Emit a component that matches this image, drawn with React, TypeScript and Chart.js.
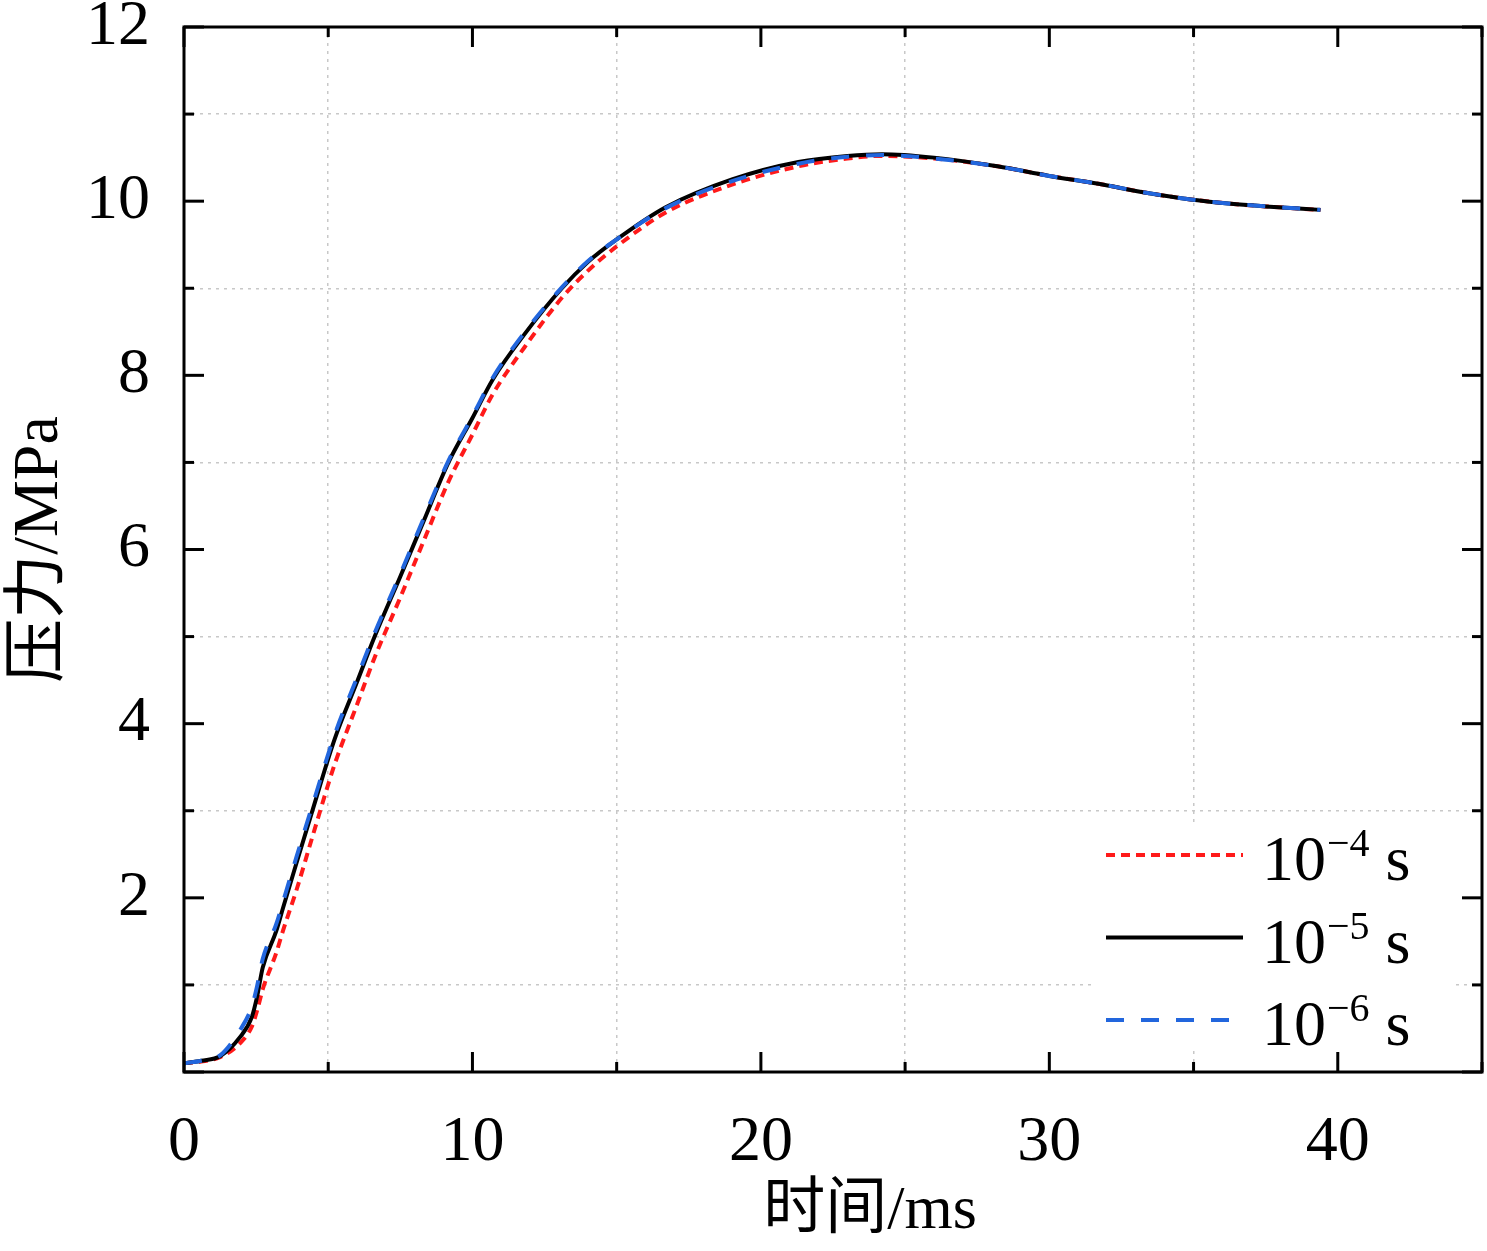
import { useEffect, useRef } from "react"
import { Chart, registerables } from "chart.js"

Chart.register(...registerables)

// tiempo (ms) común a las tres curvas
const timeMs = [0, 0.6, 1.25, 1.94, 2.35, 2.53, 2.73, 3.2, 3.43, 3.9, 4.46, 5.22, 6.0, 6.61, 7.5, 8.3, 9.17, 10.0, 10.7, 11.8, 13.1, 14.0, 15.0, 16.7, 19.0, 21.3, 23.0, 24.2, 26.0, 28.2, 30.0, 31.7, 33.3, 34.9, 36.3, 37.5, 39.4]

// presión (MPa) para cada paso de tiempo
const pressureStep4 = [0.10, 0.12, 0.17, 0.33, 0.52, 0.70, 0.95, 1.37, 1.62, 2.09, 2.71, 3.53, 4.22, 4.76, 5.45, 6.09, 6.78, 7.32, 7.78, 8.32, 8.89, 9.20, 9.48, 9.87, 10.19, 10.40, 10.49, 10.52, 10.49, 10.40, 10.29, 10.20, 10.10, 10.02, 9.97, 9.94, 9.90]
const pressureStep5 = [0.10, 0.13, 0.18, 0.40, 0.63, 0.86, 1.20, 1.62, 1.88, 2.40, 3.01, 3.82, 4.48, 5.00, 5.69, 6.32, 7.00, 7.51, 7.95, 8.47, 9.00, 9.30, 9.56, 9.93, 10.25, 10.45, 10.52, 10.54, 10.50, 10.40, 10.29, 10.20, 10.10, 10.02, 9.97, 9.94, 9.90]
const pressureStep6 = [0.10, 0.13, 0.19, 0.48, 0.75, 0.98, 1.30, 1.70, 1.95, 2.47, 3.07, 3.87, 4.53, 5.04, 5.72, 6.35, 7.02, 7.53, 7.97, 8.49, 9.01, 9.31, 9.56, 9.92, 10.23, 10.43, 10.51, 10.53, 10.49, 10.40, 10.29, 10.20, 10.10, 10.02, 9.97, 9.94, 9.90]

const seriesLabels = ["10⁻⁴ s", "10⁻⁵ s", "10⁻⁶ s"]
const seriesExponents = ["−4", "−5", "−6"]
const xTitle = "时间/ms"
const yTitle = "压力/MPa"

const SERIF = "'Liberation Serif', 'Times New Roman', 'Noto Sans CJK SC', serif"

const toPoints = (ys: number[]) => ys.map((y, i) => ({ x: timeMs[i], y }))

// marco y marcas hacia dentro en los cuatro lados
const framePlugin = {
    id: "frame",
    afterDraw(chart: any) {
        const { ctx, chartArea, scales } = chart
        const { left, right, top, bottom } = chartArea
        ctx.save()
        ctx.strokeStyle = "#000"
        ctx.lineWidth = 3
        ctx.lineCap = "butt"
        const seg = (x1: number, y1: number, x2: number, y2: number) => {
            ctx.beginPath()
            ctx.moveTo(x1, y1)
            ctx.lineTo(x2, y2)
            ctx.stroke()
        }
        scales.x.ticks.forEach((t: any) => {
            const px = scales.x.getPixelForValue(t.value)
            const len = t.value % 10 === 0 ? 20 : 10
            seg(px, bottom, px, bottom - len)
            seg(px, top, px, top + len)
        })
        scales.y.ticks.forEach((t: any) => {
            const py = scales.y.getPixelForValue(t.value)
            const len = t.value % 2 === 0 ? 20 : 10
            seg(left, py, left + len, py)
            seg(right, py, right - len, py)
        })
        ctx.strokeRect(left, top, right - left, bottom - top)

        // título del eje x, algo desplazado a la derecha como en el original
        ctx.fillStyle = "#000"
        ctx.font = `62px ${SERIF}`
        ctx.textAlign = "center"
        ctx.textBaseline = "middle"
        ctx.fillText(xTitle, 870, 1212)
        ctx.restore()
    },
}

// leyenda dentro del área, con exponentes
const legendPlugin = {
    id: "innerLegend",
    afterDatasetsDraw(chart: any) {
        const { ctx } = chart
        ctx.save()
        ctx.fillStyle = "#fff"
        ctx.fillRect(1092, 824, 360, 222)
        chart.data.datasets.forEach((ds: any, i: number) => {
            const cy = 855 + i * 82.5
            ctx.strokeStyle = ds.borderColor
            ctx.lineWidth = 4
            ctx.setLineDash(ds.borderDash || [])
            ctx.beginPath()
            ctx.moveTo(1106, cy)
            ctx.lineTo(1243, cy)
            ctx.stroke()
            ctx.setLineDash([])
            ctx.fillStyle = "#000"
            ctx.textBaseline = "alphabetic"
            ctx.textAlign = "left"
            ctx.font = `64px ${SERIF}`
            let x = 1262
            ctx.fillText("10", x, cy + 25)
            x += ctx.measureText("10").width + 1
            ctx.font = `40px ${SERIF}`
            ctx.fillText(seriesExponents[i], x, cy + 1)
            x += ctx.measureText(seriesExponents[i]).width
            ctx.font = `64px ${SERIF}`
            ctx.fillText(" s", x, cy + 25)
        })
        ctx.restore()
    },
}

export default function App() {
    const chartRef = useRef<HTMLCanvasElement>(null)
    const chartInstance = useRef<Chart | null>(null)

    useEffect(() => {
        if (!chartRef.current) return
        if (chartInstance.current) chartInstance.current.destroy()
        const ctx = chartRef.current.getContext("2d")
        if (!ctx) return

        chartInstance.current = new Chart(ctx, {
            type: "line",
            data: {
                datasets: [
                    {
                        label: seriesLabels[0],
                        data: toPoints(pressureStep4),
                        borderColor: "#ff1a1a",
                        borderWidth: 4,
                        borderDash: [9, 6],
                        pointRadius: 0,
                        cubicInterpolationMode: "monotone",
                        order: 3,
                    },
                    {
                        label: seriesLabels[1],
                        data: toPoints(pressureStep5),
                        borderColor: "#000000",
                        borderWidth: 4,
                        pointRadius: 0,
                        cubicInterpolationMode: "monotone",
                        order: 2,
                    },
                    {
                        label: seriesLabels[2],
                        data: toPoints(pressureStep6),
                        borderColor: "#2266dd",
                        borderWidth: 4,
                        borderDash: [18, 17],
                        pointRadius: 0,
                        cubicInterpolationMode: "monotone",
                        order: 1,
                    },
                ],
            },
            options: {
                animation: false,
                responsive: true,
                maintainAspectRatio: false,
                layout: { padding: { top: 27, right: 5, left: 0, bottom: 0 } },
                plugins: {
                    legend: { display: false },
                    tooltip: { enabled: false },
                },
                scales: {
                    x: {
                        type: "linear",
                        min: 0,
                        max: 45,
                        afterFit: (scale: any) => {
                            scale.height = 179
                            scale.paddingLeft = 0
                            scale.paddingRight = 0
                        },
                        ticks: {
                            stepSize: 5,
                            padding: 33,
                            maxRotation: 0,
                            color: "#000",
                            font: { family: SERIF, size: 64 },
                            callback: (v: any) => (Number(v) % 10 === 0 ? String(v) : ""),
                        },
                        grid: {
                            drawTicks: false,
                            lineWidth: 1.5,
                            color: (c: any) => (c.tick && c.tick.value % 10 === 5 ? "#c8c8c8" : "transparent"),
                        },
                        border: { display: false, dash: [3, 5] },
                        title: { display: false },
                    },
                    y: {
                        min: 0,
                        max: 12,
                        afterFit: (scale: any) => {
                            scale.width = 184
                            scale.paddingTop = 0
                            scale.paddingBottom = 0
                        },
                        ticks: {
                            stepSize: 1,
                            padding: 34,
                            color: "#000",
                            font: { family: SERIF, size: 64 },
                            callback: (v: any) => (Number(v) % 2 === 0 && Number(v) !== 0 ? String(v) : ""),
                        },
                        grid: {
                            drawTicks: false,
                            lineWidth: 1.5,
                            color: (c: any) => (c.tick && c.tick.value % 2 === 1 ? "#c8c8c8" : "transparent"),
                        },
                        border: { display: false, dash: [3, 5] },
                        title: {
                            display: true,
                            text: yTitle,
                            color: "#000",
                            font: { family: SERIF, size: 64 },
                            padding: 2,
                        },
                    },
                },
            },
            plugins: [legendPlugin, framePlugin],
        } as any)

        return () => {
            if (chartInstance.current) {
                chartInstance.current.destroy()
                chartInstance.current = null
            }
        }
    }, [])

    return (
        <div style={{ position: "absolute", left: 0, top: 0, width: 1487, height: 1251, background: "#fff" }}>
            <canvas ref={chartRef} />
        </div>
    )
}
